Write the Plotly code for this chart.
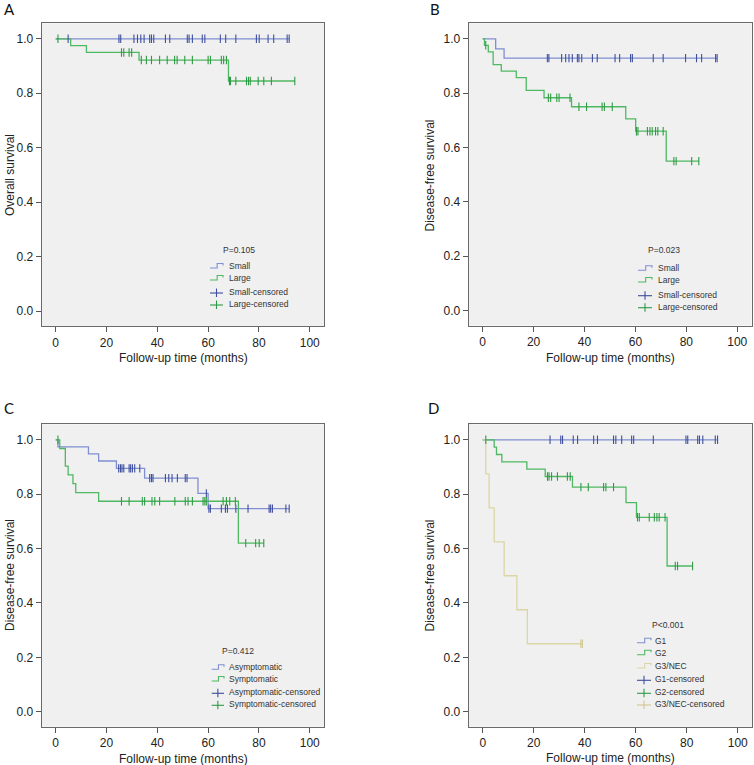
import plotly.graph_objects as go
from bisect import bisect_right

W, H = 754, 765

# ---------------- data (months, survival) ----------------
# Panel A: overall survival by size
A_small_t = [0]
A_small_s = [1.0]
A_small_end = 91.9
A_small_c = [4.9, 24.9, 25.6, 30.8, 32.2, 33.5, 34.8, 37.0, 37.7, 38.6, 43.2, 44.9, 51.8, 52.5,
             53.8, 57.7, 58.7, 64.8, 66.9, 70.9, 79.0, 80.1, 83.6, 85.8, 91.1, 91.9]
A_large_t = [0, 5.9, 12.1, 32.8, 68.0]
A_large_s = [1.0, 0.975, 0.95, 0.922, 0.845]
A_large_end = 94.1
A_large_c = [0.9, 25.9, 26.8, 28.9, 29.9, 33.7, 35.7, 37.7, 40.9, 43.9, 46.8, 47.8, 50.8, 53.8,
             60.0, 60.9, 65.2, 66.1, 67.2, 68.4, 68.8, 70.9, 75.1, 75.9, 76.6, 79.7, 81.9, 84.9, 94.1]

# Panel B: disease-free survival by size
B_small_t = [0, 5.1, 8.4]
B_small_s = [1.0, 0.963, 0.929]
B_small_end = 92.1
B_small_c = [25.4, 26.0, 31.0, 32.6, 33.9, 35.2, 37.2, 37.8, 38.9, 43.1, 45.0, 52.0, 53.8, 58.1,
             58.8, 67.0, 70.9, 79.7, 84.0, 86.0, 91.5, 92.1]
B_large_t = [0, 0.7, 2.2, 4.1, 7.3, 13.2, 17.1, 24.1, 34.9, 56.2, 60.1, 72.1]
B_large_s = [1.0, 0.976, 0.952, 0.905, 0.881, 0.857, 0.81, 0.783, 0.75, 0.705, 0.66, 0.55]
B_large_end = 84.9
B_large_c = [1.2, 25.8, 26.7, 29.1, 30.0, 34.3, 37.8, 40.8, 46.9, 47.8, 50.9, 60.4, 61.0, 64.7,
             65.7, 66.6, 67.9, 68.8, 70.9, 75.1, 76.0, 82.1, 84.9]

# Panel C: disease-free survival by symptoms
C_asym_t = [0, 0.9, 12.9, 16.9, 23.9, 35.0, 56.0, 60.0]
C_asym_s = [1.0, 0.974, 0.948, 0.922, 0.895, 0.859, 0.803, 0.747]
C_asym_end = 91.9
C_asym_c = [24.8, 25.5, 26.1, 26.8, 28.9, 29.5, 30.2, 31.1, 33.1, 37.0, 37.7, 38.3, 43.2, 44.5,
            45.8, 47.9, 51.0, 51.7, 59.3, 60.3, 60.9, 65.2, 66.8, 67.6, 70.9, 75.7, 84.0, 84.6,
            85.3, 90.6, 91.9]
C_sym_t = [0, 1.6, 3.8, 4.9, 6.8, 7.9, 16.9, 71.9]
C_sym_s = [1.0, 0.968, 0.903, 0.871, 0.839, 0.806, 0.774, 0.62]
C_sym_end = 81.9
C_sym_c = [0.9, 25.9, 28.9, 34.1, 35.0, 37.9, 39.0, 40.9, 46.9, 51.0, 52.1, 53.8, 58.0, 58.7,
           59.3, 65.9, 67.2, 68.5, 70.7, 74.8, 78.7, 80.1, 81.9]

# Panel D: disease-free survival by grade
D_g1_t = [0]
D_g1_s = [1.0]
D_g1_end = 92.1
D_g1_c = [26.4, 30.6, 31.3, 35.5, 37.2, 43.5, 45.0, 51.3, 52.2, 54.5, 58.4, 59.2, 66.9, 79.7,
          80.4, 84.3, 85.0, 86.3, 91.2, 92.1]
D_g2_t = [0, 4.5, 5.4, 7.5, 17.3, 24.5, 35.2, 56.2, 60.3, 72.3]
D_g2_s = [1.0, 0.973, 0.946, 0.919, 0.892, 0.865, 0.826, 0.769, 0.715, 0.536]
D_g2_end = 82.3
D_g2_c = [1.2, 25.4, 26.0, 27.0, 29.3, 33.2, 34.3, 38.5, 41.4, 47.4, 48.3, 51.3, 60.7, 61.4,
          65.3, 67.3, 68.3, 69.2, 71.5, 75.5, 76.4, 82.3]
D_g3_t = [0, 1.2, 2.5, 4.5, 8.4, 13.4, 17.5]
D_g3_s = [1.0, 0.875, 0.75, 0.625, 0.5, 0.375, 0.25]
D_g3_end = 39.1
D_g3_c = [38.5, 39.1]

x_ticks = [0, 20, 40, 60, 80, 100]
y_ticks = [0.0, 0.2, 0.4, 0.6, 0.8, 1.0]

panel_letters = ["A", "B", "C", "D"]
y_titles = ["Overall survival", "Disease-free survival", "Disease-free survival", "Disease-free survival"]
x_title = "Follow-up time (months)"
p_texts = ["P=0.105", "P=0.023", "P=0.412", "P<0.001"]
legend_names = [
    ["Small", "Large", "Small-censored", "Large-censored"],
    ["Small", "Large", "Small-censored", "Large-censored"],
    ["Asymptomatic", "Symptomatic", "Asymptomatic-censored", "Symptomatic-censored"],
    ["G1", "G2", "G3/NEC", "G1-censored", "G2-censored", "G3/NEC-censored"],
]

# ---------------- styles ----------------
BLUE_L, BLUE_M = "#7f8fd2", "#3e4f9e"
GREEN_L, GREEN_M = "#4fb862", "#2f9a45"
BEIGE_L, BEIGE_M = "#dcd6a6", "#cfc78f"
FONT = "Liberation Sans, Arial, sans-serif"

panels = [
    [(A_small_t, A_small_s, A_small_end, A_small_c, BLUE_L, BLUE_M),
     (A_large_t, A_large_s, A_large_end, A_large_c, GREEN_L, GREEN_M)],
    [(B_small_t, B_small_s, B_small_end, B_small_c, BLUE_L, BLUE_M),
     (B_large_t, B_large_s, B_large_end, B_large_c, GREEN_L, GREEN_M)],
    [(C_asym_t, C_asym_s, C_asym_end, C_asym_c, BLUE_L, BLUE_M),
     (C_sym_t, C_sym_s, C_sym_end, C_sym_c, GREEN_L, GREEN_M)],
    [(D_g1_t, D_g1_s, D_g1_end, D_g1_c, BLUE_L, BLUE_M),
     (D_g2_t, D_g2_s, D_g2_end, D_g2_c, GREEN_L, GREEN_M),
     (D_g3_t, D_g3_s, D_g3_end, D_g3_c, BEIGE_L, BEIGE_M)],
]

# plot frames in pixels: (left, top, right, bottom)
frames = [(41.7, 23.3, 324, 326), (468.7, 23.3, 751.5, 325.5),
          (41.7, 424.3, 324, 726.7), (468.7, 424.3, 752, 726.7)]
XR = [-5.5, 105.6]
YR = [-0.055, 1.057]


def pxX(x):
    return x / W


def pxY(y):
    return 1 - y / H


fig = go.Figure()
shapes, annos = [], []

for i, curves in enumerate(panels):
    sfx = "" if i == 0 else str(i + 1)
    xa, ya = "x" + sfx, "y" + sfx
    for (t, s, end, cens, cl, cm) in curves:
        fig.add_trace(go.Scatter(x=list(t) + [end], y=list(s) + [s[-1]], mode="lines",
                                 line=dict(color=cl, width=1.3, shape="hv"),
                                 xaxis=xa, yaxis=ya, showlegend=False, hoverinfo="skip"))
    for (t, s, end, cens, cl, cm) in curves:
        cy = [s[bisect_right(t, c) - 1] for c in cens]
        fig.add_trace(go.Scatter(x=cens, y=cy, mode="markers",
                                 marker=dict(symbol="line-ns-open", size=6, color=cm,
                                             line=dict(color=cm, width=1.1)),
                                 xaxis=xa, yaxis=ya, showlegend=False, hoverinfo="skip"))
    l, t_, r, b = frames[i]
    axcommon = dict(showline=True, mirror=True, linecolor="#6a6a6a", linewidth=1.3,
                    ticks="outside", ticklen=5, tickcolor="#555", showgrid=False, zeroline=False,
                    tickfont=dict(family=FONT, size=12, color="#222"))
    fig.layout["xaxis" + sfx] = dict(axcommon, domain=[pxX(l), pxX(r)], range=XR,
                                     tickvals=x_ticks, anchor=ya)
    fig.layout["yaxis" + sfx] = dict(axcommon, domain=[pxY(b), pxY(t_)], range=YR,
                                     tickvals=y_ticks, tickformat=".1f", anchor=xa)

# titles / letters
letter_pos = [(9, 9.5), (434.5, 9), (9, 408), (433.5, 408)]
ytitle_pos = [(10, 175), (429.5, 175), (10, 575), (429.5, 575)]
xtitle_pos = [(183, 358), (610, 358), (183, 759), (610, 758)]
for i in range(4):
    annos.append(dict(text=panel_letters[i], x=pxX(letter_pos[i][0]), y=pxY(letter_pos[i][1]),
                      xref="paper", yref="paper", showarrow=False, xanchor="center", yanchor="middle",
                      font=dict(family="Lato, sans-serif", size=15, color="#111")))
    annos.append(dict(text=y_titles[i], x=pxX(ytitle_pos[i][0]), y=pxY(ytitle_pos[i][1]),
                      xref="paper", yref="paper", showarrow=False, textangle=-90,
                      xanchor="center", yanchor="middle",
                      font=dict(family=FONT, size=12, color="#222")))
    annos.append(dict(text=x_title, x=pxX(xtitle_pos[i][0]), y=pxY(xtitle_pos[i][1]),
                      xref="paper", yref="paper", showarrow=False, xanchor="center", yanchor="middle",
                      font=dict(family=FONT, size=12, color="#222")))

# custom legends (pixel layout)
leg = [
    dict(p=(239, 250), ix=(210, 223), tx=227, rows=[266, 278, 292, 304]),
    dict(p=(664, 250), ix=(638, 652), tx=656, rows=[268.3, 280, 294.7, 306.7]),
    dict(p=(238, 650.7), ix=(211.7, 224), tx=226.7, rows=[667.3, 679, 692.3, 704.3]),
    dict(p=(668, 625), ix=(637, 651), tx=652.7, rows=[640.7, 652.7, 666, 679.3, 692.3, 704]),
]
for i, L in enumerate(leg):
    curves = panels[i]
    n = len(curves)
    annos.append(dict(text=p_texts[i], x=pxX(L["p"][0]), y=pxY(L["p"][1]), xref="paper", yref="paper",
                      showarrow=False, xanchor="center", yanchor="middle",
                      font=dict(family=FONT, size=8.5, color="#333")))
    x0, x1 = L["ix"]
    xm = x0 + (x1 - x0) * 0.55
    for k, name in enumerate(legend_names[i]):
        ry = L["rows"][k]
        if k < n:
            col = curves[k][4]
            path = "M {} {} L {} {} L {} {} L {} {} L {} {}".format(
                pxX(x0), pxY(ry + 2), pxX(xm), pxY(ry + 2), pxX(xm), pxY(ry - 2.5),
                pxX(x1), pxY(ry - 2.5), pxX(x1), pxY(ry - 0.5))
            shapes.append(dict(type="path", path=path, xref="paper", yref="paper",
                               line=dict(color=col, width=1.1)))
        else:
            col = curves[k - n][5]
            xc = (x0 + x1) / 2
            shapes.append(dict(type="line", x0=pxX(x0), x1=pxX(x1), y0=pxY(ry + 1), y1=pxY(ry + 1),
                               xref="paper", yref="paper", line=dict(color=col, width=1.1)))
            shapes.append(dict(type="line", x0=pxX(xc), x1=pxX(xc), y0=pxY(ry - 3.5), y1=pxY(ry + 5),
                               xref="paper", yref="paper", line=dict(color=col, width=1.1)))
        annos.append(dict(text=name, x=pxX(L["tx"]), y=pxY(ry), xref="paper", yref="paper",
                          showarrow=False, xanchor="left", yanchor="middle",
                          font=dict(family=FONT, size=8.5, color="#333")))

fig.update_layout(width=W, height=H, margin=dict(l=0, r=0, t=0, b=0),
                  paper_bgcolor="white", plot_bgcolor="#f0f0f0",
                  shapes=shapes, annotations=annos, showlegend=False)

fig.write_html("out.html", config={"displayModeBar": False},
               post_script="document.body.style.margin='0px';document.body.style.overflow='hidden';")
